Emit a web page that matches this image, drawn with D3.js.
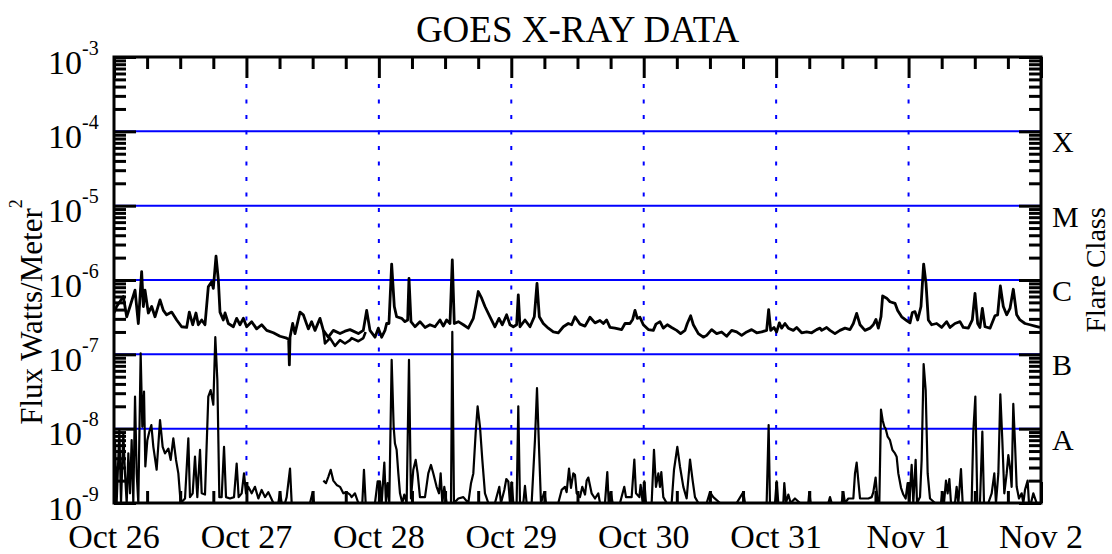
<!DOCTYPE html>
<html>
<head>
<meta charset="utf-8">
<script src="https://cdn.jsdelivr.net/npm/d3@7"></script>
<style>
  body { margin: 0; background: #fff; }
  text { font-family: "Liberation Serif", "Times New Roman", serif; fill: #000; }
</style>
</head>
<body>
<div id="chart"></div>
<script>
// hours after Oct 26 00:00, flux in W/m^2
var dayLabels = ["Oct 26", "Oct 27", "Oct 28", "Oct 29", "Oct 30", "Oct 31", "Nov 1", "Nov 2"];
var decades = [1e-9, 1e-8, 1e-7, 1e-6, 1e-5, 1e-4, 1e-3];
var flareClasses = [{c: "X", v: 1e-4}, {c: "M", v: 1e-5}, {c: "C", v: 1e-6}, {c: "B", v: 1e-7}, {c: "A", v: 1e-8}];

// 1-8 A channel
var longChannel = [
  [0.0,3.6e-7],[0.48,4.4e-7],[1.69,6.0e-7],[2.30,3.2e-7],[2.90,4.4e-7],[3.81,7.3e-7],[4.41,2.6e-7],[5.01,1.3e-6],[5.32,4.4e-7],[5.62,7.3e-7],
  [6.22,3.6e-7],[6.83,4.4e-7],[7.43,3.2e-7],[8.34,5.4e-7],[8.94,3.9e-7],[9.54,3.4e-7],[10.45,3.7e-7],[11.36,2.9e-7],[12.26,2.35e-7],[13.17,2.3e-7],
  [13.65,3.7e-7],[14.26,2.5e-7],[14.86,3.6e-7],[15.28,2.5e-7],[15.89,2.9e-7],[16.49,2.5e-7],[17.09,8.1e-7],[17.70,9.5e-7],[18.0,7.7e-7],[18.49,2.1e-6],
  [18.91,1.0e-6],[19.21,3.7e-7],[19.81,2.9e-7],[20.12,3.6e-7],[20.72,2.6e-7],[21.63,2.35e-7],[22.23,3.05e-7],[22.83,2.5e-7],[23.44,3.05e-7],[24.04,2.35e-7],
  [24.95,2.75e-7],[25.85,2.2e-7],[26.76,2.5e-7],[27.67,2.1e-7],[28.88,1.95e-7],[30.08,1.75e-7],[31.29,1.65e-7],[31.65,1.6e-7],[31.78,7.2e-8],[31.90,1.7e-7],
  [32.38,2.6e-7],[32.80,1.9e-7],[33.71,3.7e-7],[34.31,3.4e-7],[35.22,2.2e-7],[35.82,2.75e-7],[36.43,2.1e-7],[37.33,3.05e-7],[37.94,2.1e-7],[38.84,1.7e-7],
  [39.75,2.1e-7],[40.96,1.9e-7],[41.86,2.05e-7],[42.77,2.15e-7],[43.07,2.1e-7],[44.28,1.9e-7],[45.18,2.1e-7],[45.79,3.9e-7],[46.39,2.1e-7],[47.30,1.7e-7],
  [47.90,2.25e-7],[48.51,1.7e-7],[49.11,2.1e-7],[49.41,2.6e-7],[49.83,2.6e-7],[50.32,1.64e-6],[50.80,4.4e-7],[51.22,3.2e-7],[52.13,3.05e-7],[52.73,2.75e-7],
  [53.22,2.9e-7],[53.46,1.05e-6],[53.82,2.75e-7],[54.55,2.35e-7],[55.45,2.75e-7],[56.36,2.3e-7],[57.26,2.5e-7],[58.17,2.35e-7],[59.08,2.9e-7],[59.68,2.4e-7],
  [60.28,2.9e-7],[60.89,2.6e-7],[61.31,1.86e-6],[61.67,2.6e-7],[62.40,2.75e-7],[63.31,2.5e-7],[64.21,2.25e-7],[65.12,3.05e-7],[65.54,4.4e-7],[66.02,7.0e-7],
  [66.63,5.7e-7],[67.23,4.4e-7],[68.14,3.2e-7],[69.04,2.35e-7],[69.77,3.05e-7],[70.37,2.5e-7],[71.16,3.4e-7],[71.76,2.5e-7],[72.37,2.35e-7],[72.97,2.5e-7],
  [73.27,6.3e-7],[73.58,2.35e-7],[74.48,2.9e-7],[75.39,2.35e-7],[76.17,3.2e-7],[76.66,9.0e-7],[77.08,3.2e-7],[77.80,2.6e-7],[78.71,2.25e-7],[79.62,2.0e-7],
  [80.52,1.95e-7],[81.43,2.35e-7],[82.33,2.6e-7],[82.94,2.5e-7],[83.54,3.2e-7],[84.45,2.55e-7],[85.36,2.4e-7],[86.26,3.15e-7],[87.17,2.65e-7],[88.07,2.85e-7],
  [88.68,2.6e-7],[89.28,2.9e-7],[89.89,2.3e-7],[90.79,2.25e-7],[92.0,2.15e-7],[92.61,2.6e-7],[93.51,2.6e-7],[94.0,2.95e-7],[94.42,3.9e-7],[94.84,3.05e-7],
  [95.32,3.15e-7],[95.93,2.5e-7],[96.83,2.15e-7],[97.74,2.1e-7],[98.22,2.55e-7],[98.95,2.75e-7],[99.55,2.25e-7],[100.28,2.5e-7],[101.06,2.3e-7],[101.97,2.1e-7],
  [102.69,1.9e-7],[103.48,2.1e-7],[103.90,2.6e-7],[104.51,3.3e-7],[104.99,2.5e-7],[105.90,1.9e-7],[106.80,1.7e-7],[107.41,1.8e-7],[108.31,2.15e-7],[109.22,1.9e-7],
  [110.12,2.0e-7],[111.03,1.75e-7],[111.94,2.1e-7],[112.84,2.0e-7],[113.75,1.8e-7],[114.66,2.0e-7],[115.56,2.15e-7],[116.47,1.95e-7],[117.37,2.0e-7],[118.28,2.1e-7],
  [118.64,4.0e-7],[119.01,2.1e-7],[119.61,2.3e-7],[120.09,2.0e-7],[120.58,2.65e-7],[121.0,2.25e-7],[121.60,2.6e-7],[122.21,2.25e-7],[123.11,2.1e-7],[123.72,2.3e-7],
  [124.62,1.95e-7],[125.53,2.0e-7],[126.44,1.95e-7],[127.34,2.15e-7],[127.95,2.25e-7],[128.25,2.1e-7],[129.15,2.3e-7],[129.76,2.1e-7],[130.66,1.9e-7],[131.57,2.1e-7],
  [132.48,2.25e-7],[133.38,2.15e-7],[133.99,2.6e-7],[134.59,3.55e-7],[135.20,2.5e-7],[136.10,2.1e-7],[137.01,2.25e-7],[137.61,2.5e-7],[138.09,2.95e-7],[138.52,2.25e-7],
  [139.0,3.2e-7],[139.30,6.1e-7],[140.03,5.7e-7],[140.63,5.1e-7],[141.54,4.85e-7],[142.02,3.9e-7],[142.75,3.2e-7],[143.65,2.85e-7],[144.26,2.65e-7],[144.68,3.65e-7],
  [145.16,3.75e-7],[145.65,2.9e-7],[146.25,4.4e-7],[146.73,1.64e-6],[147.16,9.0e-7],[147.58,2.9e-7],[148.18,2.5e-7],[149.09,2.6e-7],[150.0,2.3e-7],[150.90,2.75e-7],
  [151.51,2.3e-7],[152.41,2.6e-7],[153.32,2.75e-7],[153.92,2.3e-7],[154.83,2.25e-7],[155.55,2.9e-7],[156.04,6.6e-7],[156.52,2.6e-7],[156.94,2.3e-7],[157.37,4.15e-7],
  [157.85,2.35e-7],[158.76,2.25e-7],[159.66,3.3e-7],[160.14,3.4e-7],[160.63,8.3e-7],[161.17,4.4e-7],[161.78,3.4e-7],[162.38,4.15e-7],[162.98,7.5e-7],[163.59,3.4e-7],
  [164.19,2.9e-7],[165.10,2.6e-7],[166.00,2.5e-7],[166.91,2.4e-7],[167.82,2.3e-7]
];

// second satellite, 1-8 A, where it separates from the first
var longChannel2 = [
  [37.94,2.1e-7],[38.24,1.4e-7],[39.15,1.65e-7],[40.05,1.3e-7],[40.96,1.55e-7],[41.86,1.4e-7],[42.77,1.55e-7],[43.07,1.65e-7],[44.28,1.5e-7],[45.18,1.65e-7],[45.6,2.0e-7]
];

// 0.5-4 A channel (null = data gap)
var shortChannel = [
  [0.0,1.0e-9],[0.18,7.0e-9],[0.48,1.0e-9],[0.97,9.6e-9],[1.27,1.0e-9],[1.69,8.65e-9],[1.99,2.5e-9],[2.30,1.0e-9],[2.60,4.65e-9],[2.90,1.35e-9],
  [3.20,7.0e-9],[3.50,1.0e-9],[3.81,2.7e-8],[4.11,2.5e-9],[4.41,1.0e-9],[4.83,1.03e-7],[5.13,1.06e-8],[5.44,3.15e-8],[5.68,3.1e-9],[6.04,7.0e-9],
  [6.40,9.1e-9],[6.77,1.12e-8],[7.13,5.7e-9],[7.73,2.8e-9],[8.34,1.3e-8],[8.82,5.7e-9],[9.24,4.65e-9],[9.85,5.4e-9],[10.27,3.8e-9],[10.75,7.4e-9],
  [11.24,3.8e-9],[11.66,2.5e-9],[12.08,1.0e-9],[12.87,1.15e-9],[13.47,7.4e-9],[13.77,1.2e-9],[14.26,1.35e-9],[14.68,4.2e-9],[15.10,1.2e-9],[15.59,5.2e-9],
  [15.89,1.35e-9],[16.49,1.3e-9],[17.09,2.7e-8],[17.52,3.3e-8],[18.00,2.1e-8],[18.36,1.7e-7],[18.73,4.5e-8],[19.09,1.2e-9],[19.51,1.2e-9],[19.94,5.7e-9],
  [20.30,1.2e-9],[21.02,1.15e-9],[21.75,1.2e-9],[22.23,3.4e-9],[22.59,1.2e-9],[23.14,1.35e-9],[23.56,2.5e-9],[23.92,1.35e-9],[24.34,1.65e-9],[24.95,1.35e-9],
  [25.55,1.65e-9],[26.16,1.15e-9],[26.76,1.5e-9],[27.37,1.2e-9],[27.97,1.4e-9],[28.88,1.0e-9],[29.78,1.0e-9],[30.08,1.4e-9],[30.39,1.0e-9],[30.99,1.0e-9],
  [31.29,1.2e-9],[31.90,2.9e-9],[32.20,1.0e-9],[35.52,1.0e-9],[36.00,1.4e-9],[36.25,1.0e-9],null,
  [37.94,2.0e-9],[38.42,1.85e-9],[38.84,2.25e-9],[39.27,2.8e-9],[39.75,2.0e-9],[40.35,1.75e-9],[40.96,1.65e-9],[41.56,1.35e-9],[42.16,1.4e-9],[42.77,1.3e-9],
  [43.07,1.2e-9],[43.67,1.35e-9],[44.28,1.0e-9],[45.0,1.0e-9],[45.30,2.8e-9],[45.61,1.0e-9],[47.30,1.0e-9],[47.78,1.95e-9],[48.20,1.95e-9],[48.51,1.0e-9],
  [48.99,3.5e-9],[49.29,1.0e-9],[49.59,1.85e-9],[49.89,1.0e-9],[50.32,8.4e-8],[50.68,1.06e-8],[50.92,6.3e-9],[51.22,5.2e-9],[51.53,2.5e-9],[51.83,1.35e-9],
  [52.25,1.0e-9],[52.61,1.3e-9],[53.04,1.0e-9],[53.46,8.4e-8],[53.82,1.15e-9],[54.24,2.8e-9],[54.67,3.8e-9],[55.03,2.5e-9],[55.45,1.2e-9],[56.36,1.2e-9],
  [56.96,2.5e-9],[57.45,3.25e-9],[57.87,2.5e-9],[58.47,1.65e-9],[58.90,1.35e-9],[59.20,2.5e-9],[59.50,1.0e-9],[59.86,1.65e-9],[60.28,1.0e-9],[61.07,1.0e-9],
  [61.31,2.0e-7],[61.61,1.0e-9],[62.40,1.15e-9],[63.31,1.2e-9],[64.21,1.0e-9],[64.70,1.85e-9],[65.12,2.5e-9],[65.54,8.65e-9],[65.90,2.0e-8],[66.33,1.06e-8],
  [66.75,3.8e-9],[67.23,1.35e-9],[67.84,1.0e-9],[69.04,1.0e-9],[69.83,1.65e-9],[70.13,1.0e-9],[70.74,1.5e-9],[71.10,2.1e-9],[71.46,1.95e-9],[71.76,1.0e-9],
  [72.07,1.9e-9],[72.37,1.0e-9],[72.97,1.0e-9],[73.27,2.0e-8],[73.58,1.0e-9],[74.18,1.0e-9],[74.48,1.7e-9],[74.78,1.0e-9],[75.69,1.0e-9],[76.29,7.0e-9],
  [76.66,3.5e-8],[77.02,5.7e-9],[77.38,1.0e-9],[77.98,1.4e-9],[78.29,1.0e-9],[79.31,1.0e-9],[80.52,1.0e-9],[81.13,1.5e-9],[81.73,1.65e-9],[82.03,1.4e-9],
  [82.46,2.9e-9],[82.82,1.6e-9],[83.24,2.5e-9],[83.54,2.4e-9],[83.85,1.35e-9],[84.45,1.2e-9],[84.87,1.65e-9],[85.36,1.3e-9],[85.66,2.0e-9],[85.96,2.2e-9],
  [86.56,1.35e-9],[87.17,1.15e-9],[87.77,1.35e-9],[88.07,1.0e-9],[88.98,1.0e-9],[89.40,2.6e-9],[89.65,1.0e-9],[90.01,1.4e-9],[90.37,1.0e-9],[91.70,1.0e-9],
  [92.48,1.65e-9],[92.79,1.2e-9],[93.81,1.2e-9],[94.30,3.85e-9],[94.60,1.35e-9],[95.20,1.2e-9],[95.44,1.75e-9],[95.81,1.0e-9],[96.11,1.95e-9],[96.41,1.0e-9],
  [97.44,1.0e-9],[97.86,5.2e-9],[98.22,1.65e-9],[98.65,2.5e-9],[98.95,1.65e-9],[99.19,2.6e-9],[99.55,1.2e-9],[100.16,1.0e-9],[101.06,1.0e-9],[101.49,2.8e-9],
  [102.09,5.7e-9],[102.57,3.1e-9],[103.18,1.65e-9],[103.78,1.15e-9],[104.39,3.85e-9],[104.87,2.0e-9],[105.29,1.2e-9],[105.90,1.0e-9],[107.41,1.0e-9],[108.01,1.4e-9],
  [108.61,1.2e-9],[109.82,1.0e-9],[111.63,1.0e-9],[112.84,1.0e-9],[114.05,1.4e-9],[114.35,1.0e-9],[117.07,1.0e-9],[118.28,1.0e-9],[118.64,1.12e-8],[118.88,1.0e-9],
  [119.79,1.0e-9],[120.09,1.95e-9],[120.39,1.0e-9],[121.30,1.0e-9],[121.48,1.85e-9],[121.78,1.0e-9],[122.21,1.3e-9],[122.63,1.0e-9],[123.41,1.15e-9],[124.32,1.0e-9],
  [125.83,1.0e-9],[126.01,1.4e-9],[126.25,1.0e-9],[127.95,1.0e-9],[128.25,1.0e-9],[129.46,1.0e-9],[129.76,1.2e-9],[130.06,1.0e-9],[131.87,1.0e-9],[132.17,1.4e-9],
  [132.48,1.0e-9],[133.08,1.15e-9],[133.99,1.15e-9],[134.29,2.5e-9],[134.59,3.5e-9],[134.89,2.0e-9],[135.20,1.15e-9],[136.71,1.15e-9],[137.31,1.2e-9],[137.61,1.4e-9],
  [138.03,2.2e-9],[138.40,1.0e-9],[138.70,1.0e-9],[139.0,1.8e-8],[139.30,1.3e-8],[139.61,1.06e-8],[139.85,1.0e-8],[140.21,7.8e-9],[140.63,7.0e-9],[141.06,5.2e-9],
  [141.54,4.65e-9],[141.84,4.2e-9],[142.14,2.5e-9],[142.63,1.6e-9],[143.05,1.3e-9],[143.47,1.15e-9],[143.83,1.85e-9],[144.14,1.0e-9],[144.56,3.25e-9],[144.86,1.0e-9],
  [145.28,3.8e-9],[145.53,1.0e-9],[146.07,1.2e-9],[146.37,3.8e-9],[146.73,7.4e-8],[147.10,3.3e-8],[147.46,2.5e-9],[147.88,1.15e-9],[148.79,1.0e-9],[149.88,1.0e-9],
  [150.12,1.4e-9],[150.42,1.0e-9],[150.78,2.0e-9],[151.08,1.35e-9],[151.39,2.1e-9],[151.69,1.0e-9],[152.41,1.0e-9],[152.71,1.65e-9],[153.02,1.0e-9],[153.50,2.85e-9],
  [153.80,1.0e-9],[155.43,1.0e-9],[155.73,9.1e-9],[156.10,2.7e-8],[156.46,1.0e-9],[156.94,1.0e-9],[157.37,9.1e-9],[157.67,1.0e-9],[158.45,1.0e-9],[159.06,1.35e-9],
  [159.54,2.5e-9],[159.84,1.0e-9],[160.27,2.5e-9],[160.63,2.9e-8],[160.99,7.0e-9],[161.35,1.35e-9],[161.78,2.5e-9],[162.08,4.4e-9],[162.44,2.8e-9],[162.68,1.65e-9],
  [162.98,2.15e-8],[163.29,6.3e-9],[163.59,1.65e-9],[164.01,1.15e-9],[164.49,1.35e-9],[164.80,1.0e-9],[165.10,1.5e-9],[165.58,2.0e-9],[165.82,1.0e-9],[166.19,1.0e-9],
  [166.61,1.35e-9],[167.21,1.0e-9],[167.82,1.0e-9]
];

var width = 1112,
    height = 554;
var plotLeft = 114, plotRight = 1041, plotTop = 57, plotBottom = 503;

var x = d3.scaleLinear().domain([0, 168]).range([plotLeft, plotRight]);
var y = d3.scaleLog().domain([1e-9, 1e-3]).range([plotBottom, plotTop]).clamp(true);

var svg = d3.select("#chart").append("svg")
    .attr("width", width)
    .attr("height", height);

svg.append("clipPath").attr("id", "plot")
  .append("rect").attr("x", plotLeft).attr("y", plotTop)
    .attr("width", plotRight - plotLeft).attr("height", plotBottom - plotTop);

// flare class level lines
svg.selectAll("line.level")
    .data(decades.slice(1, 6)).enter().append("line")
    .attr("class", "level")
    .attr("x1", plotLeft).attr("x2", plotRight)
    .attr("y1", function(d) { return y(d); })
    .attr("y2", function(d) { return y(d); })
    .style("stroke", "#0000ff")
    .style("stroke-width", 2);

// day separators (dotted)
var days = d3.range(1, 7);
svg.selectAll("line.day")
    .data(days).enter().append("line")
    .attr("class", "day")
    .attr("x1", function(d) { return x(d * 24); })
    .attr("x2", function(d) { return x(d * 24); })
    .attr("y1", 84).attr("y2", plotBottom)
    .style("stroke", "#0000ff")
    .style("stroke-width", 2)
    .style("stroke-dasharray", "4,11.5");

var line = d3.line()
    .defined(function(d) { return d != null; })
    .x(function(d) { return x(d[0]); })
    .y(function(d) { return y(d[1]); });

var g = svg.append("g").attr("clip-path", "url(#plot)");
[[shortChannel, 2.2], [longChannel2, 2.6], [longChannel, 2.8]].forEach(function(s) {
  g.append("path")
      .attr("d", line(s[0]))
      .style("fill", "none")
      .style("stroke", "#000")
      .style("stroke-width", s[1])
      .style("stroke-linejoin", "round");
});

// axes: ticks on all four sides, pointing inward
var dayTicks = d3.range(0, 169, 24);
var quarterTicks = d3.range(0, 169, 6).filter(function(h) { return h % 24 != 0; });

var topAxis = d3.axisTop(x).tickValues(dayTicks).tickSize(-21).tickFormat("");
var topMinor = d3.axisTop(x).tickValues(quarterTicks).tickSize(-12).tickFormat("");
var botAxis = d3.axisBottom(x).tickValues(dayTicks).tickSize(-21).tickFormat("");
var botMinor = d3.axisBottom(x).tickValues(quarterTicks).tickSize(-12).tickFormat("");

var minorVals = [];
decades.slice(0, 6).forEach(function(d) {
  d3.range(2, 10).forEach(function(k) { minorVals.push(d * k); });
});
var leftAxis = d3.axisLeft(y).tickValues(decades).tickSize(-22).tickFormat("");
var leftMinor = d3.axisLeft(y).tickValues(minorVals).tickSize(-12).tickFormat("");
var rightAxis = d3.axisRight(y).tickValues(decades).tickSize(-22).tickFormat("");
var rightMinor = d3.axisRight(y).tickValues(minorVals).tickSize(-12).tickFormat("");

function drawAxis(axis, tx, ty) {
  var a = svg.append("g").attr("transform", "translate(" + tx + "," + ty + ")").call(axis);
  a.select(".domain").remove();
  a.selectAll(".tick line").style("stroke", "#000").style("stroke-width", 3);
}
drawAxis(topAxis, 0, plotTop);
drawAxis(topMinor, 0, plotTop);
drawAxis(botAxis, 0, plotBottom);
drawAxis(botMinor, 0, plotBottom);
drawAxis(leftAxis, plotLeft, 0);
drawAxis(leftMinor, plotLeft, 0);
drawAxis(rightAxis, plotRight, 0);
drawAxis(rightMinor, plotRight, 0);

svg.append("rect")
    .attr("x", plotLeft).attr("y", plotTop)
    .attr("width", plotRight - plotLeft).attr("height", plotBottom - plotTop)
    .style("fill", "none")
    .style("stroke", "#000")
    .style("stroke-width", 3);

// y tick labels 10^n
var ylab = svg.selectAll("text.ylab")
    .data(decades).enter().append("text")
    .attr("class", "ylab")
    .attr("x", 48)
    .attr("y", function(d) { return y(d) + 16.5; })
    .style("font-size", "34px");
ylab.append("tspan").text("10");
ylab.append("tspan")
    .attr("dy", -19)
    .style("font-size", "20px")
    .text(function(d) { return "-" + Math.round(-Math.log10(d)); });

// x tick labels
svg.selectAll("text.xlab")
    .data(dayLabels).enter().append("text")
    .attr("class", "xlab")
    .attr("x", function(d, i) { return x(i * 24); })
    .attr("y", 548)
    .attr("text-anchor", "middle")
    .style("font-size", "34px")
    .text(function(d) { return d; });

// flare class letters
svg.selectAll("text.cls")
    .data(flareClasses).enter().append("text")
    .attr("class", "cls")
    .attr("x", 1052)
    .attr("y", function(d) { return y(d.v) + 21; })
    .style("font-size", "30px")
    .text(function(d) { return d.c; });

svg.append("text")
    .attr("x", (plotLeft + plotRight) / 2)
    .attr("y", 42)
    .attr("text-anchor", "middle")
    .style("font-size", "37px")
    .text("GOES X-RAY DATA");

var yTitle = svg.append("text")
    .attr("transform", "translate(42,312) rotate(-90)")
    .attr("text-anchor", "middle")
    .style("font-size", "31px");
yTitle.append("tspan").text("Flux Watts/Meter");
yTitle.append("tspan").attr("dy", -20).style("font-size", "18px").text("2");

svg.append("text")
    .attr("transform", "translate(1105,270) rotate(-90)")
    .attr("text-anchor", "middle")
    .style("font-size", "28px")
    .text("Flare Class");
</script>
</body>
</html>
